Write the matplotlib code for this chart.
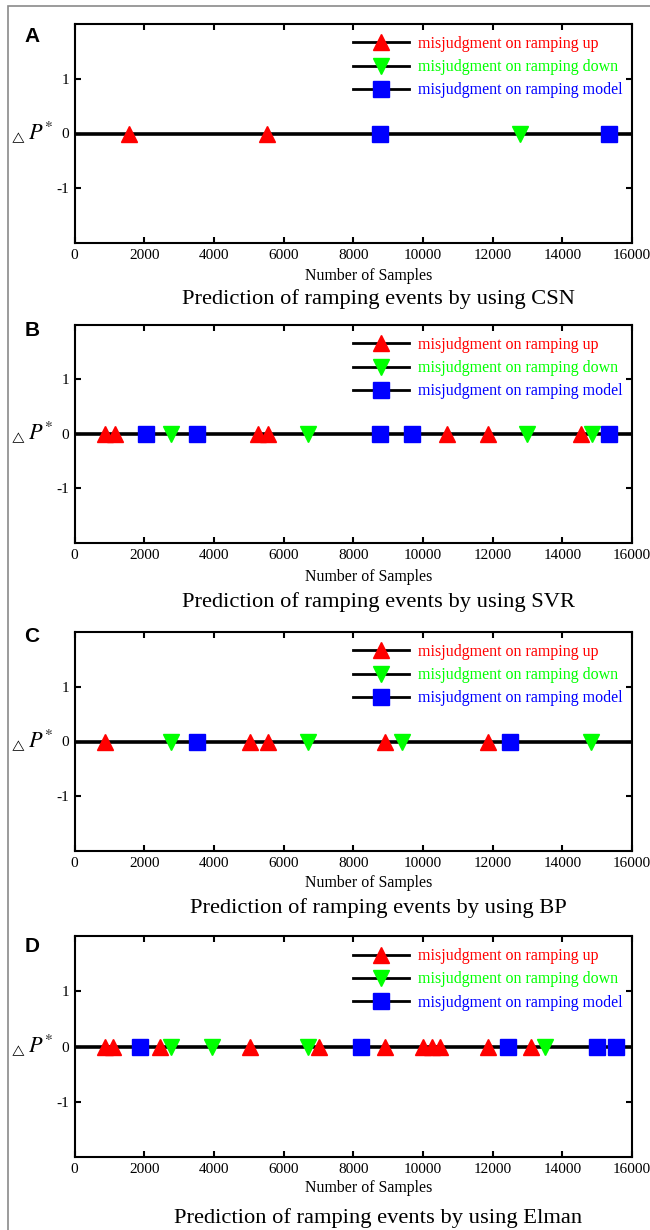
import matplotlib
matplotlib.use('Agg')
import matplotlib.pyplot as plt
from matplotlib.lines import Line2D
from matplotlib.patches import Rectangle

# ---------------- data ----------------
panel_letters = ['A', 'B', 'C', 'D']
methods = ['CSN', 'SVR', 'BP', 'Elman']

up_A = [1550, 5530]
down_A = [12790]
model_A = [8760, 15350]

up_B = [860, 1160, 5260, 5560, 10680, 11870, 14550]
down_B = [2760, 6700, 12980, 14850]
model_B = [2040, 3500, 8760, 9690, 15350]

up_C = [870, 5040, 5560, 8910, 11870]
down_C = [2770, 6700, 9410, 14830]
model_C = [3510, 12490]

up_D = [860, 1110, 2440, 5040, 7020, 8910, 10000, 10260, 10500, 11870, 13110]
down_D = [2760, 3940, 6690, 13490]
model_D = [1870, 8230, 12430, 15000, 15550]

x_ticks = [0, 2000, 4000, 6000, 8000, 10000, 12000, 14000, 16000]
y_ticks = [-1, 0, 1]
legend_labels = ['misjudgment on ramping up',
                 'misjudgment on ramping down',
                 'misjudgment on ramping model']
xlabel_text = 'Number of Samples'
title_prefix = 'Prediction of ramping events by using '

ups = [up_A, up_B, up_C, up_D]
downs = [down_A, down_B, down_C, down_D]
models = [model_A, model_B, model_C, model_D]

# ---------------- style ----------------
W, H = 650, 1230
plt.rcParams['font.family'] = ['Liberation Serif', 'DejaVu Serif']
plt.rcParams['mathtext.fontset'] = 'stix'

RED, GREEN, BLUE = '#ff0000', '#00ff00', '#0000ff'

fig = plt.figure(figsize=(W / 100, H / 100), dpi=100)

def fx(px):
    return px / W

def fy(py):
    return 1 - py / H

# gray outer frame (left and top edges visible)
fig.add_artist(Rectangle((fx(8), fy(1240)), 1.2, fy(6) - fy(1240),
                         transform=fig.transFigure, fill=False,
                         edgecolor='#8a8a8a', lw=1.2))

left_px, right_px = 74.6, 632
tops = [24, 325, 632, 936]
bottoms = [243, 543, 851, 1157]
title_y = [299, 602, 908, 1218]
xlabel_y = [276, 577, 883, 1188]
letter_y = [36, 330, 636, 946]

for i in range(4):
    ax = fig.add_axes([fx(left_px), fy(bottoms[i]),
                       fx(right_px) - fx(left_px), fy(tops[i]) - fy(bottoms[i])])
    ax.set_xlim(0, 16000)
    ax.set_ylim(-2, 2)
    ax.axhline(0, color='black', lw=2.6, zorder=1)
    ax.plot(ups[i], [0] * len(ups[i]), ls='none', marker='^', ms=11,
            color=RED, mec=RED, zorder=3, clip_on=False)
    ax.plot(downs[i], [0] * len(downs[i]), ls='none', marker='v', ms=11,
            color=GREEN, mec=GREEN, zorder=3, clip_on=False)
    ax.plot(models[i], [0] * len(models[i]), ls='none', marker='s', ms=11,
            color=BLUE, mec=BLUE, zorder=3, clip_on=False)

    ax.set_xticks(x_ticks)
    ax.set_yticks(y_ticks)
    ax.set_xticklabels([str(t) for t in x_ticks])
    ax.set_yticklabels([str(t) for t in y_ticks])
    ax.tick_params(direction='in', length=4, width=1.5, top=True, right=True,
                   labelsize=11, pad=4)
    for s in ax.spines.values():
        s.set_linewidth(1.5)

    handles = [
        Line2D([], [], color='black', lw=2, marker='^', ms=11, mfc=RED, mec=RED),
        Line2D([], [], color='black', lw=2, marker='v', ms=11, mfc=GREEN, mec=GREEN),
        Line2D([], [], color='black', lw=2, marker='s', ms=11, mfc=BLUE, mec=BLUE),
    ]
    ax.legend(handles, legend_labels, loc='upper left',
              bbox_to_anchor=((353 - left_px) / (right_px - left_px), 0.945),
              frameon=False, fontsize=11.5, labelcolor=[RED, GREEN, BLUE],
              handlelength=3.5, handletextpad=0.55, labelspacing=0.45,
              borderpad=0, borderaxespad=0)

    fig.text(fx(369), fy(xlabel_y[i]), xlabel_text, ha='center', va='center',
             fontsize=11.4)
    fig.text(fx(378), fy(title_y[i]), title_prefix + methods[i], ha='center',
             va='center', fontsize=16.2)
    fig.text(fx(32), fy(letter_y[i]), panel_letters[i], ha='center', va='center',
             fontsize=15, fontweight='bold', family='Liberation Sans')
    zero_px = tops[i] + (bottoms[i] - tops[i]) / 2
    fig.text(fx(26), fy(zero_px + 4), r'$\triangle$', ha='right',
             va='center', fontsize=8)
    fig.text(fx(28), fy(zero_px), r'$P^{*}$', ha='left',
             va='center', fontsize=16)

fig.savefig('out.png', dpi=100)
